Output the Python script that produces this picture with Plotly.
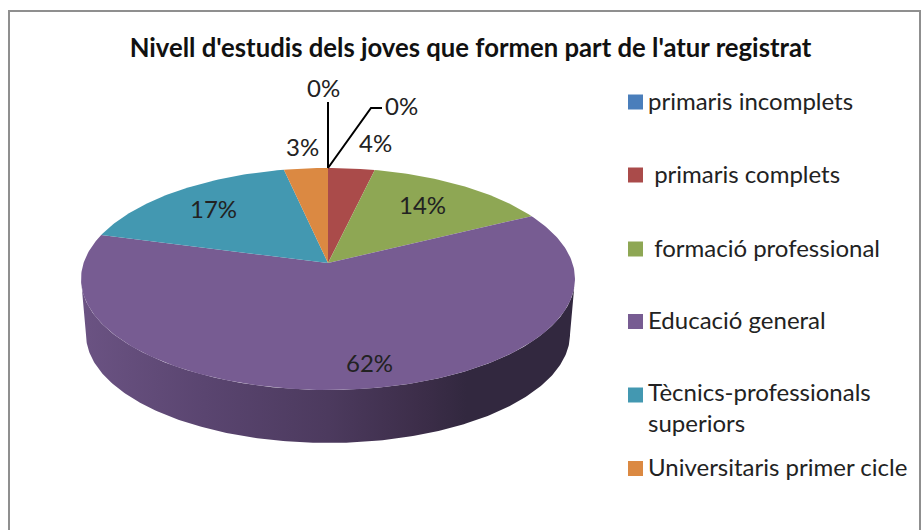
import numpy as np
import plotly.graph_objects as go

# ---- data ----
title = "Nivell d'estudis dels joves que formen part de l'atur registrat"
categories = ["primaris incomplets", " primaris complets", " formació professional",
              "Educació general", "Tècnics-professionals<br>superiors", "Universitaris primer cicle"]
shares = [0.0, 3.5, 13.9, 61.9, 17.4, 3.3]
share_labels = ["0%", "4%", "14%", "62%", "17%", "3%"]
extra_label = "0%"
colors = ["#4a7ebb", "#aa4b4a", "#8ea754", "#775c92", "#4398b1", "#db8942"]

# ---- projection of the tilted disc onto the page ----
CX, CY, RX, RY, PERSP = 328.0, 263.0, 244.4, 108.7, 0.144
DEPTH, BOTTOM_SCALE = 55.5, 0.98
FONT = "Lato"
KEY_X = 635.5
KEY_Y = [102, 175, 249, 321.5, 395, 468.5]
KEY_TEXT_X = 646


def project(turn, scale=1.0, drop=0.0):
    t = np.asarray(turn) * 2 * np.pi
    u, v = np.sin(t), np.cos(t)
    s = scale / (1 + PERSP * v)
    return CX + RX * u * s, CY + drop - RY * v * s


fig = go.Figure()

cum = np.cumsum([0.0] + shares) / sum(shares)

# side wall: the visible front part, between the disc's left and right extremes
right_turn = np.arccos(-PERSP) / (2 * np.pi)
arc = np.linspace(right_turn, 1 - right_turn, 240)
xt, yt = project(arc)
xb, yb = project(arc, BOTTOM_SCALE, DEPTH)
fig.add_trace(go.Scatter(
    x=np.r_[xt, xb[::-1]], y=np.r_[yt, yb[::-1]], mode="lines", fill="toself",
    line=dict(width=0), showlegend=False, hoverinfo="skip",
    fillgradient=dict(type="horizontal", colorscale=[
        [0.0, "#6b5383"], [0.25, "#5a4570"], [0.5, "#4c3a5e"],
        [0.68, "#3d2e4a"], [0.78, "#32283f"], [1.0, "#32283f"]]),
))

# top faces
for i, name in enumerate(categories):
    if shares[i] <= 0:
        continue
    a = np.linspace(cum[i], cum[i + 1], max(int(shares[i] * 4), 6))
    x, y = project(a)
    fig.add_trace(go.Scatter(
        x=np.r_[CX, x, CX], y=np.r_[CY, y, CY], mode="lines", fill="toself",
        fillcolor=colors[i], line=dict(width=0), showlegend=False,
        name=name.replace("<br>", " "), text=share_labels[i], hoverinfo="name+text",
    ))

# colour key
fig.add_trace(go.Scatter(
    x=[KEY_X] * len(categories), y=KEY_Y, mode="markers", showlegend=False, hoverinfo="skip",
    marker=dict(symbol="square", size=15, color=colors),
))

text_font = dict(family=FONT, size=24, color="#222222")

# percentage labels
label_pos = [(323, 87), (375, 142), (422, 204), (369, 362), (213, 208), (302, 146)]
annotations = [
    dict(x=px, y=py, text=t, showarrow=False, xref="x", yref="y", font=text_font)
    for (px, py), t in zip(label_pos, share_labels)
]
annotations.append(dict(x=401, y=105, text=extra_label, showarrow=False, xref="x", yref="y",
                        font=text_font))

# key texts
for name, ky in zip(categories, KEY_Y):
    two_lines = "<br>" in name
    annotations.append(dict(
        x=KEY_TEXT_X, y=ky - 2 if not two_lines else ky + 12, text=name, showarrow=False,
        xref="x", yref="y", xanchor="left", yanchor="middle", align="left", font=text_font))

top_x, top_y = project(0.0)
shapes = [
    dict(type="rect", xref="x", yref="y", x0=9, y0=11, x1=920, y1=560,
         line=dict(color="#8f8f8f", width=2), layer="below"),
    dict(type="path", xref="x", yref="y",
         path=f"M{top_x},{top_y} L{top_x},102 M{top_x},{top_y} L371,108 L382,108",
         line=dict(color="#000000", width=2)),
]

fig.update_layout(
    width=921, height=530, margin=dict(l=0, r=0, t=0, b=0),
    paper_bgcolor="#ffffff", plot_bgcolor="#ffffff", showlegend=False,
    title=dict(text=f"<b>{title}</b>", x=470.5 / 921, xanchor="center",
               y=1 - 48 / 530, yanchor="middle",
               font=dict(family=FONT, size=25.7, color="#111111")),
    xaxis=dict(range=[0, 921], visible=False, fixedrange=True),
    yaxis=dict(range=[530, 0], visible=False, fixedrange=True),
    annotations=annotations, shapes=shapes,
)

fig.write_html("out.html", post_script="document.body.style.margin='0';",
               config={"displayModeBar": False})
